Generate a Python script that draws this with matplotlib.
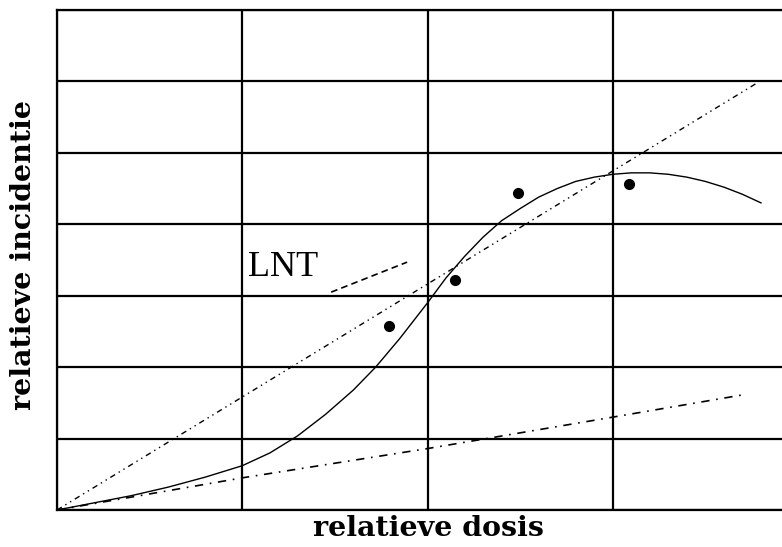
import matplotlib.pyplot as plt

# solid curve (observed trend)
curve_x = [0, 0.2, 0.4, 0.6, 0.8, 1.0, 1.15, 1.3, 1.45, 1.6, 1.72, 1.85, 2.0, 2.1, 2.2, 2.3,
           2.4, 2.5, 2.6, 2.7, 2.8, 2.9, 3.0, 3.1, 3.2, 3.3, 3.4, 3.5, 3.6, 3.7, 3.8]
curve_y = [0, 0.1, 0.2, 0.32, 0.46, 0.62, 0.8, 1.04, 1.34, 1.68, 2.0, 2.4, 2.9, 3.25, 3.55, 3.82,
           4.05, 4.22, 4.38, 4.5, 4.6, 4.66, 4.7, 4.72, 4.72, 4.7, 4.66, 4.6, 4.52, 4.42, 4.3]

# LNT line (steep) and the shallow line
lnt_x = [0, 3.78]
lnt_y = [0, 5.98]
low_x = [0, 1.0, 2.0, 3.0, 3.72]
low_y = [0, 0.45, 0.86, 1.30, 1.62]

# data points
pts_x = [1.79, 2.15, 2.49, 3.09]
pts_y = [2.58, 3.22, 4.44, 4.56]

# pointer line for the LNT label
ptr_x = [1.48, 1.89]
ptr_y = [3.05, 3.47]

fig = plt.figure(figsize=(7.82, 5.47), dpi=100)
ax = fig.add_axes([57 / 782, 37 / 547, 741 / 782, 500 / 547])

ax.set_xlim(0, 4)
ax.set_ylim(0, 7)
ax.set_xticks([0, 1, 2, 3, 4])
ax.set_yticks(range(8))
ax.grid(True, color="black", linewidth=1.6)
ax.tick_params(length=0, labelbottom=False, labelleft=False)
for s in ax.spines.values():
    s.set_linewidth(1.6)

ax.plot(curve_x, curve_y, color="black", linewidth=1.0)
ax.plot(lnt_x, lnt_y, color="black", linewidth=1.0, dashes=(4, 3, 1, 3, 1, 3))
ax.plot(low_x, low_y, color="black", linewidth=1.2, dashes=(5, 4, 1, 4))
ax.plot(ptr_x, ptr_y, color="black", linewidth=1.2, dashes=(4, 2.5))
ax.plot(pts_x, pts_y, "o", color="black", markersize=7)

ax.text(1.03, 3.4, "LNT", fontsize=26, family="Liberation Serif", va="center", ha="left")

fig.text(428 / 782, 18 / 547, "relatieve dosis", fontsize=20.5, family="DejaVu Serif",
         weight="bold", ha="center", va="center")
fig.text(24 / 782, 292 / 547, "relatieve incidentie", fontsize=20.5, family="DejaVu Serif",
         weight="bold", ha="center", va="center", rotation=90)

fig.savefig("out.png", dpi=100)
